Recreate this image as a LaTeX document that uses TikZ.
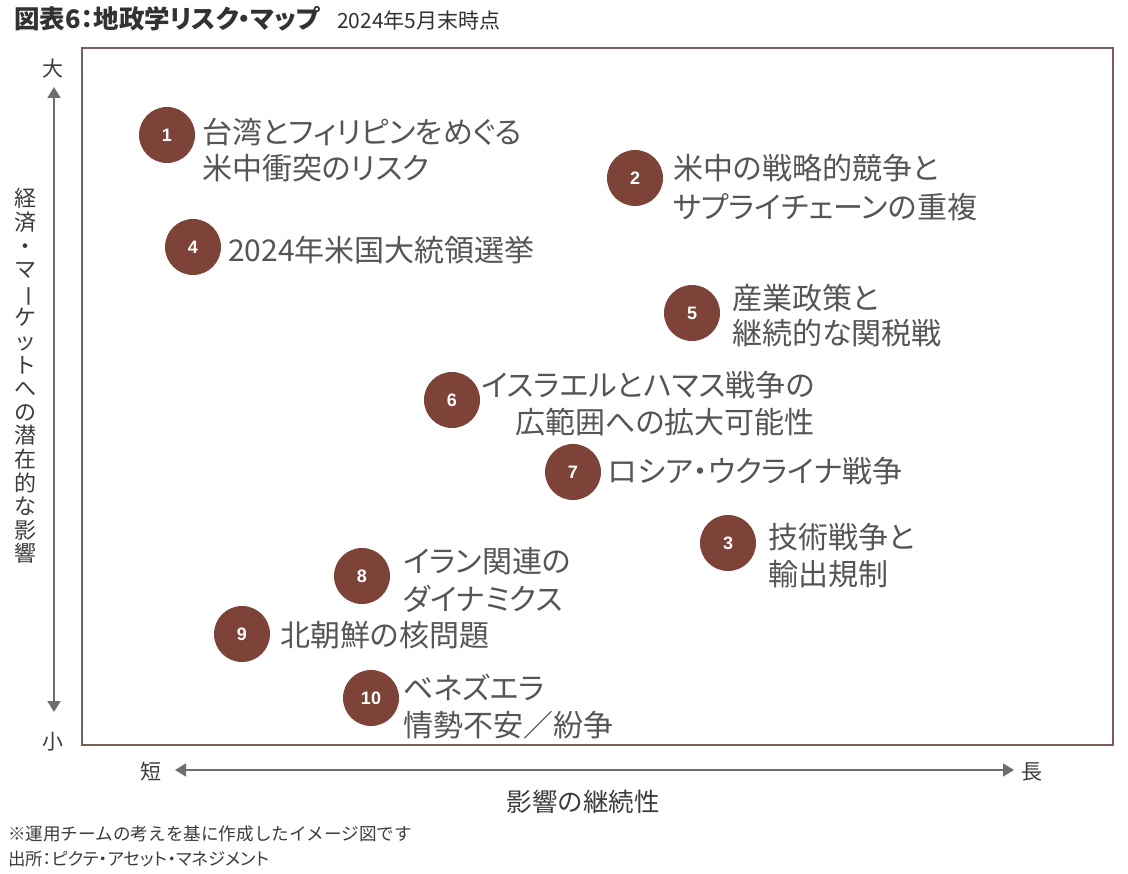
\documentclass[tikz,border=0pt]{standalone}
\usepackage{fontspec}
\usepackage{graphicx}
\setmainfont{Noto Sans CJK JP}
\newfontfamily\jp[RawFeature=+palt]{Noto Sans CJK JP}
\newfontfamily\jpm{Noto Sans CJK JP}
\newfontfamily\numfont{Liberation Sans}
\usetikzlibrary{arrows.meta}
\definecolor{riskc}{RGB}{125,66,56}
\definecolor{labelgray}{RGB}{85,85,85}
\definecolor{axisgray}{RGB}{110,110,110}
\definecolor{axistext}{RGB}{60,60,60}
\definecolor{framec}{RGB}{122,96,92}
\definecolor{titlec}{RGB}{50,50,50}
\begin{document}
\begin{tikzpicture}[x=1pt,y=-1pt,
  lbl/.style={anchor=west,inner sep=0pt,text=labelgray,font=\jp\fontsize{30}{36}\selectfont},
  lble/.style={lbl,anchor=east},
  riskdot/.style={circle,fill=riskc,minimum size=56pt,inner sep=0pt,text=white,font=\numfont\bfseries\fontsize{18}{18}\selectfont},
  axarrow/.style={draw=axisgray,line width=1.8pt,{Triangle[length=11pt,width=13pt]}-{Triangle[length=11pt,width=13pt]}},
  axtext/.style={text=axistext,inner sep=0pt,font=\jpm\fontsize{21}{21}\selectfont},
  note/.style={anchor=west,inner sep=0pt,text=axistext}]
\useasboundingbox (0,0) rectangle (1128,874);
\fill[white] (0,0) rectangle (1128,874);

% title
\node[anchor=west,inner sep=0pt,font=\jp\bfseries\fontsize{25.5}{25.5}\selectfont,text=titlec] (title) at (14,19) {図表6：地政学リスク・マップ};
\node[anchor=west,inner sep=0pt,font=\jpm\fontsize{21}{21}\selectfont,text=titlec] (date) at (337,20) {2024年5月末時点};

% frame
\draw[framec,line width=1.3pt] (82,48) rectangle (1113,745);

% vertical axis
\coordinate (vtop) at (54,87);
\coordinate (vbot) at (54,712);
\draw[axarrow] (vtop) -- (vbot);
\node[axtext] (big) at (53,69) {大};
\node[axtext] (small) at (53,742) {小};
\node[axtext,align=center,font=\jpm\fontsize{22}{23.6}\selectfont] (vlabel) at (25,376)
  {経\\済\\・\\マ\\\rotatebox[origin=c]{-90}{ー}\\ケ\\ッ\\ト\\へ\\の\\潜\\在\\的\\な\\影\\響};

% horizontal axis
\coordinate (hleft) at (175,770);
\coordinate (hright) at (1014,770);
\draw[axarrow] (hleft) -- (hright);
\node[axtext] (short) at (151,772) {短};
\node[axtext] (long) at (1032,772) {長};
\node[axtext,font=\jpm\fontsize{25.5}{25.5}\selectfont] (xlabel) at (583,802) {影響の継続性};

% risks
\node[riskdot] (r1) at (167,135) {1};
\node[lbl] (t1a) at (202,132) {台湾とフィリピンをめぐる};
\node[lbl] (t1b) at (202,168) {米中衝突のリスク};

\node[riskdot] (r2) at (635,178) {2};
\node[lbl] (t2a) at (673,168) {米中の戦略的競争と};
\node[lbl] (t2b) at (673,207) {サプライチェーンの重複};

\node[riskdot] (r4) at (193,247) {4};
\node[lbl] (t4) at (228,250) {2024年米国大統領選挙};

\node[riskdot] (r5) at (692,313) {5};
\node[lbl] (t5a) at (732,298) {産業政策と};
\node[lbl] (t5b) at (732,333) {継続的な関税戦};

\node[riskdot] (r6) at (452,400) {6};
\node[lble] (t6a) at (815,385) {イスラエルとハマス戦争の};
\node[lble] (t6b) at (815,422) {広範囲への拡大可能性};

\node[riskdot] (r7) at (573,472) {7};
\node[lbl] (t7) at (608,471) {ロシア・ウクライナ戦争};

\node[riskdot] (r3) at (728,543) {3};
\node[lbl] (t3a) at (768,537) {技術戦争と};
\node[lbl] (t3b) at (768,574) {輸出規制};

\node[riskdot] (r8) at (362,576) {8};
\node[lbl] (t8a) at (403,561) {イラン関連の};
\node[lbl] (t8b) at (403,599) {ダイナミクス};

\node[riskdot] (r9) at (242,634) {9};
\node[lbl] (t9) at (280,635) {北朝鮮の核問題};

\node[riskdot] (r10) at (371,698) {10};
\node[lbl] (t10a) at (403,687) {ベネズエラ};
\node[lbl] (t10b) at (403,725) {情勢不安／紛争};

% notes
\node[note,font=\jpm\fontsize{17.6}{17.6}\selectfont] (note1) at (8,834) {※運用チームの考えを基に作成したイメージ図です};
\node[note,font=\jp\fontsize{17.4}{17.4}\selectfont] (note2) at (8,859) {出所：ピクテ・アセット・マネジメント};
\end{tikzpicture}
\end{document}
